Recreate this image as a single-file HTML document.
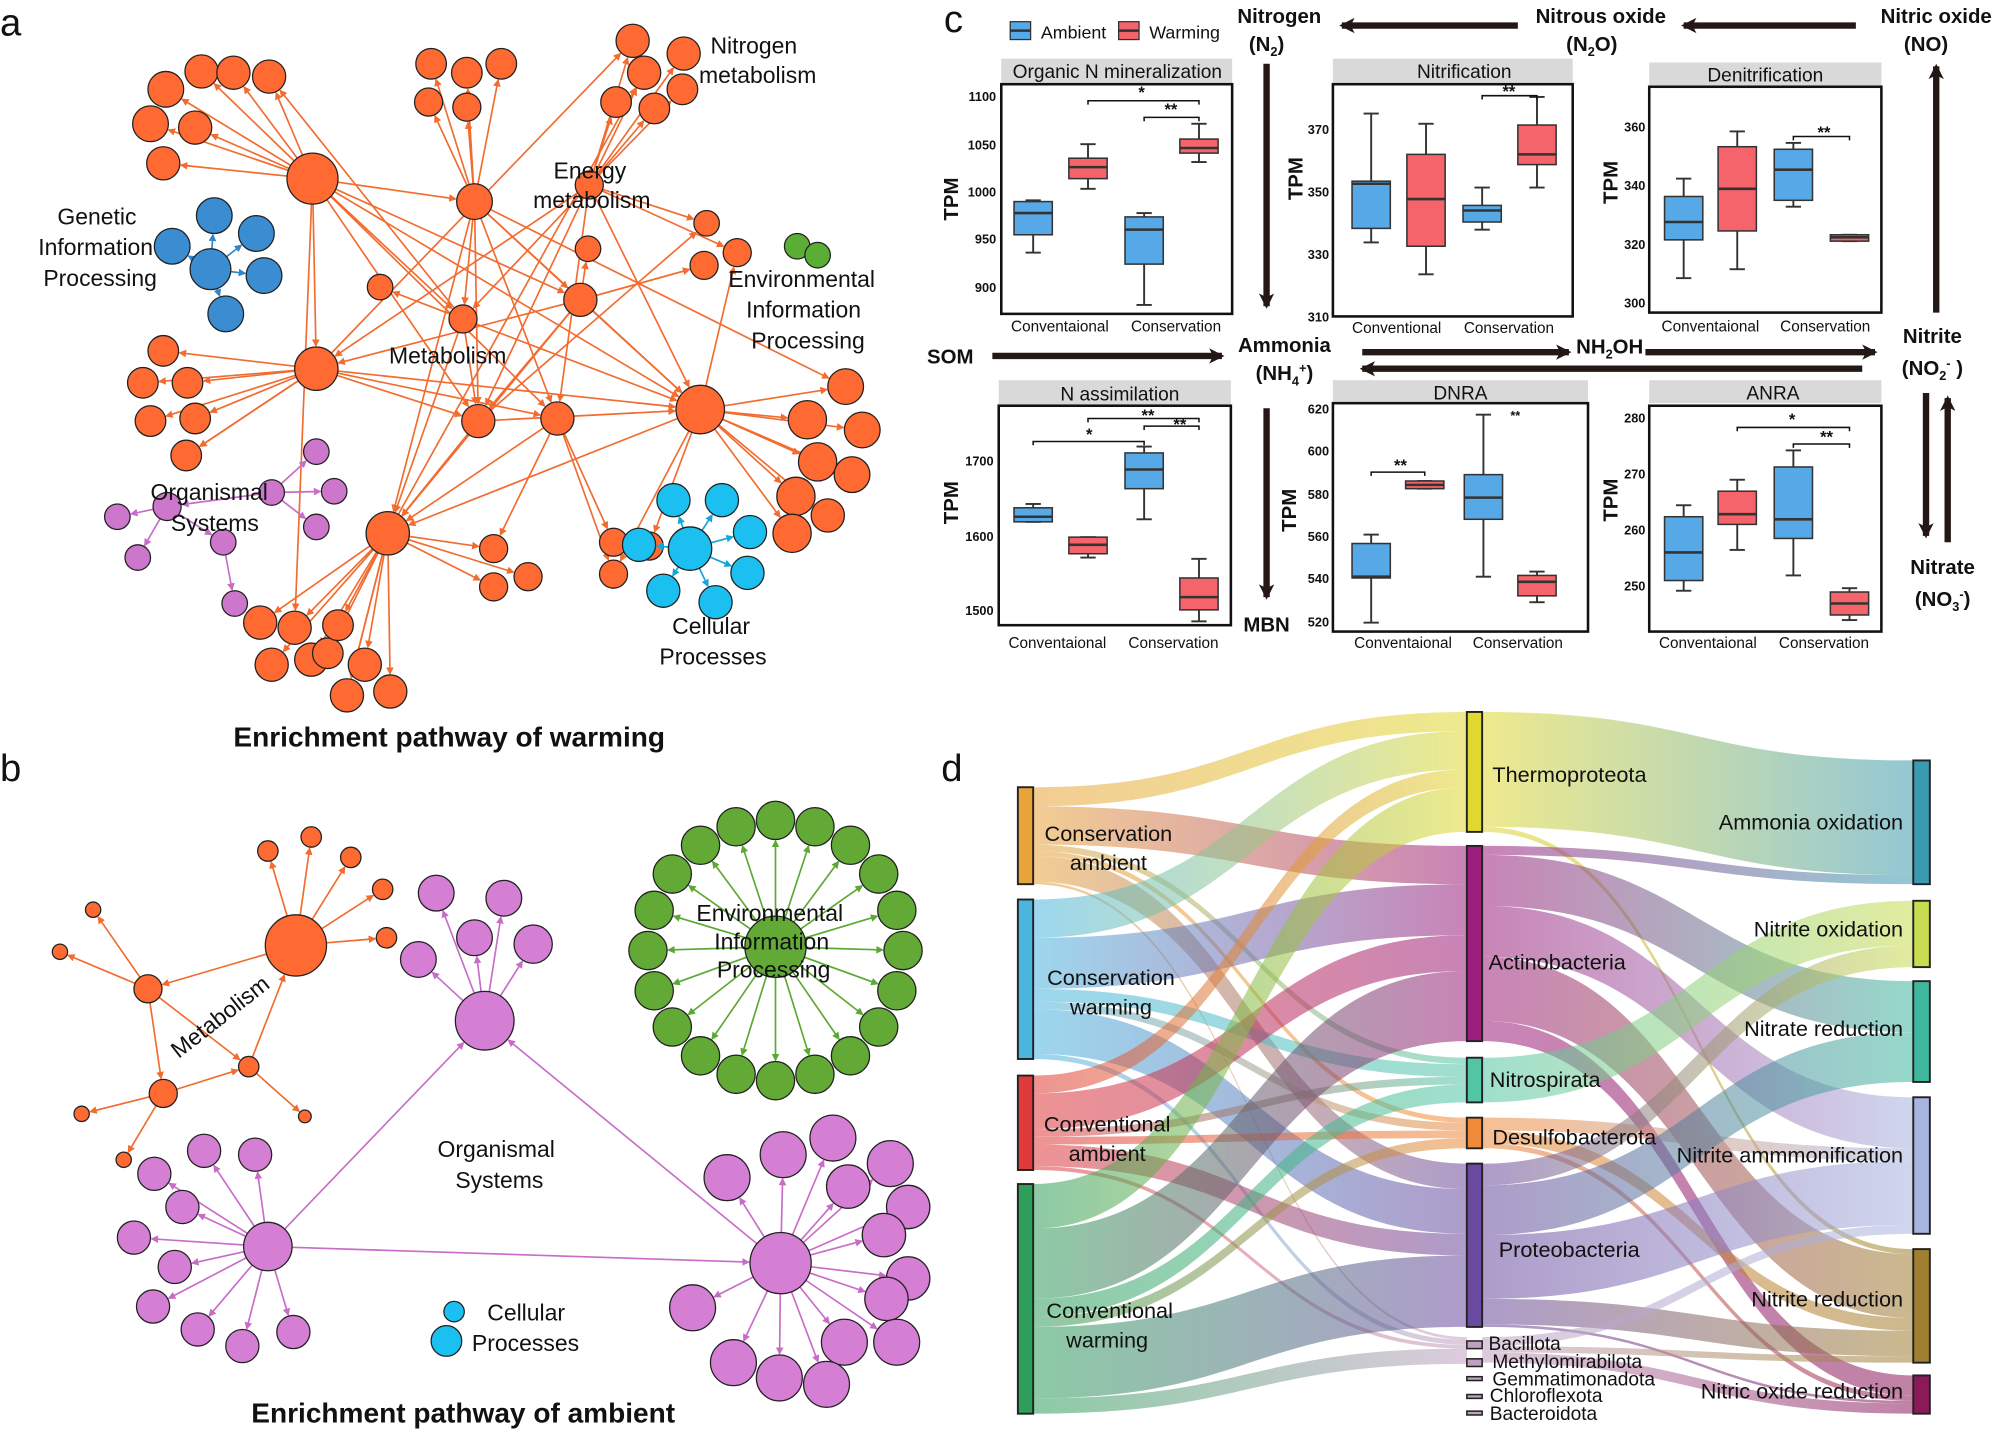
<!DOCTYPE html>
<html><head><meta charset="utf-8"><style>
html,body{margin:0;padding:0;background:#fff}
svg{display:block}
text{font-family:"Liberation Sans",sans-serif;fill:#111}
.b{font-weight:bold}
.t{font-size:10px;fill:#222}
.x{font-size:12px;fill:#222}
.lab{font-size:18px}
.h{font-size:15px}
</style></head><body>
<svg id="s" xmlns="http://www.w3.org/2000/svg" width="2000" height="1429" viewBox="0 0 1568 1120" preserveAspectRatio="none">
<defs>
<marker id="ao" markerWidth="6" markerHeight="6" refX="5" refY="3" orient="auto" markerUnits="userSpaceOnUse"><path d="M0,0L6,3L0,6z" fill="#F26B2F"/></marker>
<marker id="ap" markerWidth="6" markerHeight="6" refX="5" refY="3" orient="auto" markerUnits="userSpaceOnUse"><path d="M0,0L6,3L0,6z" fill="#C86CC8"/></marker>
<marker id="ab" markerWidth="6" markerHeight="6" refX="5" refY="3" orient="auto" markerUnits="userSpaceOnUse"><path d="M0,0L6,3L0,6z" fill="#2E86C8"/></marker>
<marker id="ac" markerWidth="6" markerHeight="6" refX="5" refY="3" orient="auto" markerUnits="userSpaceOnUse"><path d="M0,0L6,3L0,6z" fill="#10A8D8"/></marker>
<marker id="ag" markerWidth="6" markerHeight="6" refX="5" refY="3" orient="auto" markerUnits="userSpaceOnUse"><path d="M0,0L6,3L0,6z" fill="#5BA832"/></marker>
<marker id="ak" markerWidth="12" markerHeight="12" refX="10" refY="6" orient="auto" markerUnits="userSpaceOnUse"><path d="M0,0L12,6L0,12L3,6z" fill="#231815"/></marker>
</defs>
<g id="net"></g>
<g id="sank"></g>
<g id="boxes"></g>
<g id="arrows" stroke="#231815" stroke-width="5" fill="none">
<line x1="1190" y1="20" x2="1052" y2="20" marker-end="url(#ak)"/>
<line x1="1455" y1="20" x2="1320" y2="20" marker-end="url(#ak)"/>
<line x1="993" y1="50" x2="993" y2="240" marker-end="url(#ak)"/>
<line x1="1518" y1="245" x2="1518" y2="52" marker-end="url(#ak)"/>
<line x1="778" y1="279" x2="958" y2="279" marker-end="url(#ak)"/>
<line x1="1068" y1="276" x2="1230" y2="276" marker-end="url(#ak)"/>
<line x1="1290" y1="276" x2="1470" y2="276" marker-end="url(#ak)"/>
<line x1="1460" y1="289" x2="1068" y2="289" marker-end="url(#ak)"/>
<line x1="993" y1="320" x2="993" y2="468" marker-end="url(#ak)"/>
<line x1="1510" y1="308" x2="1510" y2="420" marker-end="url(#ak)"/>
<line x1="1527" y1="425" x2="1527" y2="312" marker-end="url(#ak)"/>
</g>
<!-- panel labels -->
<text x="0" y="28" style="font-size:30px">a</text>
<text x="0" y="612" style="font-size:30px">b</text>
<text x="740" y="25" style="font-size:30px">c</text>
<text x="738" y="612" style="font-size:30px">d</text>
<!-- panel a labels -->
<g style="font-size:18px">
<text x="557" y="42">Nitrogen</text><text x="548" y="65">metabolism</text>
<text x="434" y="140">Energy</text><text x="418" y="163">metabolism</text>
<text x="45" y="176">Genetic</text><text x="30" y="200">Information</text><text x="34" y="224">Processing</text>
<text x="571" y="225">Environmental</text><text x="585" y="249">Information</text><text x="589" y="273">Processing</text>
<text x="305" y="285">Metabolism</text>
<text x="118" y="392">Organismal</text><text x="134" y="416">Systems</text>
<text x="527" y="497">Cellular</text><text x="517" y="521">Processes</text>
<text x="343" y="907">Organismal</text><text x="357" y="931">Systems</text>
<text x="382" y="1035">Cellular</text><text x="370" y="1059">Processes</text>
<text x="546" y="722">Environmental</text><text x="560" y="744">Information</text><text x="562" y="766">Processing</text>
<text x="0" y="0" transform="translate(140,830) rotate(-38)">Metabolism</text>
</g>
<text x="183" y="585" class="b" style="font-size:22px">Enrichment pathway of warming</text>
<text x="197" y="1115" class="b" style="font-size:22px">Enrichment pathway of ambient</text>
<!-- panel c texts -->
<g style="font-size:14px">
<rect x="792" y="17" width="16" height="14" fill="#56A8E6" stroke="#333"/><line x1="792" y1="24" x2="808" y2="24" stroke="#333" stroke-width="2"/>
<text x="816" y="30">Ambient</text>
<rect x="877" y="17" width="16" height="14" fill="#F4646A" stroke="#333"/><line x1="877" y1="24" x2="893" y2="24" stroke="#333" stroke-width="2"/>
<text x="901" y="30">Warming</text>
</g>
<g class="b" style="font-size:16px">
<text x="1003" y="18" text-anchor="middle">Nitrogen</text><text x="993" y="40" text-anchor="middle">(N<tspan font-size="10" dy="4">2</tspan><tspan dy="-4">)</tspan></text>
<text x="1255" y="18" text-anchor="middle">Nitrous oxide</text><text x="1248" y="40" text-anchor="middle">(N<tspan font-size="10" dy="4">2</tspan><tspan dy="-4">O)</tspan></text>
<text x="1518" y="18" text-anchor="middle">Nitric oxide</text><text x="1510" y="40" text-anchor="middle">(NO)</text>
<text x="745" y="285" text-anchor="middle">SOM</text>
<text x="1007" y="276" text-anchor="middle">Ammonia</text><text x="1007" y="298" text-anchor="middle">(NH<tspan font-size="10" dy="4">4</tspan><tspan font-size="10" dy="-10">+</tspan><tspan dy="6">)</tspan></text>
<text x="1262" y="277" text-anchor="middle">NH<tspan font-size="10" dy="4">2</tspan><tspan dy="-4">OH</tspan></text>
<text x="1515" y="269" text-anchor="middle">Nitrite</text><text x="1515" y="294" text-anchor="middle">(NO<tspan font-size="10" dy="4">2</tspan><tspan font-size="10" dy="-10">-</tspan><tspan dy="6"> )</tspan></text>
<text x="1523" y="450" text-anchor="middle">Nitrate</text><text x="1523" y="475" text-anchor="middle">(NO<tspan font-size="10" dy="4">3</tspan><tspan font-size="10" dy="-10">-</tspan><tspan dy="6">)</tspan></text>
<text x="993" y="495" text-anchor="middle">MBN</text>
</g>
<g class="h">
<rect x="785" y="46" width="181" height="20" fill="#D9D9D9"/><text x="876" y="61" text-anchor="middle">Organic N mineralization</text>
<rect x="1045" y="46" width="188" height="20" fill="#D9D9D9"/><text x="1148" y="61" text-anchor="middle">Nitrification</text>
<rect x="1293" y="49" width="182" height="19" fill="#D9D9D9"/><text x="1384" y="64" text-anchor="middle">Denitrification</text>
<rect x="783" y="298" width="182" height="20" fill="#D9D9D9"/><text x="878" y="314" text-anchor="middle">N assimilation</text>
<rect x="1045" y="298" width="200" height="18" fill="#D9D9D9"/><text x="1145" y="313" text-anchor="middle">DNRA</text>
<rect x="1293" y="298" width="182" height="18" fill="#D9D9D9"/><text x="1390" y="313" text-anchor="middle">ANRA</text>
</g>
<g fill="none" stroke="#111" stroke-width="2">
<rect x="785" y="66" width="181" height="180"/>
<rect x="1045" y="66" width="188" height="182"/>
<rect x="1293" y="68" width="182" height="177"/>
<rect x="783" y="318" width="182" height="172"/>
<rect x="1045" y="316" width="200" height="179"/>
<rect x="1293" y="318" width="182" height="177"/>
</g>
<g class="b" style="font-size:16px">
<text transform="translate(751,156) rotate(-90)" text-anchor="middle">TPM</text>
<text transform="translate(1021,140) rotate(-90)" text-anchor="middle">TPM</text>
<text transform="translate(1268,143) rotate(-90)" text-anchor="middle">TPM</text>
<text transform="translate(751,394) rotate(-90)" text-anchor="middle">TPM</text>
<text transform="translate(1016,400) rotate(-90)" text-anchor="middle">TPM</text>
<text transform="translate(1268,392) rotate(-90)" text-anchor="middle">TPM</text>
</g>
<g class="t b" text-anchor="end">
<text x="781" y="79">1100</text><text x="781" y="117">1050</text><text x="781" y="154">1000</text><text x="781" y="191">950</text><text x="781" y="229">900</text>
<text x="1042" y="105">370</text><text x="1042" y="154">350</text><text x="1042" y="203">330</text><text x="1042" y="252">310</text>
<text x="1290" y="103">360</text><text x="1290" y="149">340</text><text x="1290" y="195">320</text><text x="1290" y="241">300</text>
<text x="779" y="365">1700</text><text x="779" y="424">1600</text><text x="779" y="482">1500</text>
<text x="1042" y="324">620</text><text x="1042" y="357">600</text><text x="1042" y="391">580</text><text x="1042" y="424">560</text><text x="1042" y="457">540</text><text x="1042" y="491">520</text>
<text x="1290" y="331">280</text><text x="1290" y="375">270</text><text x="1290" y="419">260</text><text x="1290" y="463">250</text>
</g>
<g class="x" text-anchor="middle">
<text x="831" y="260">Conventaional</text><text x="922" y="260">Conservation</text>
<text x="1095" y="261">Conventional</text><text x="1183" y="261">Conservation</text>
<text x="1341" y="260">Conventaional</text><text x="1431" y="260">Conservation</text>
<text x="829" y="508">Conventaional</text><text x="920" y="508">Conservation</text>
<text x="1100" y="508">Conventaional</text><text x="1190" y="508">Conservation</text>
<text x="1339" y="508">Conventaional</text><text x="1430" y="508">Conservation</text>
</g>
<g style="font-size:13px" class="b" text-anchor="middle">
<text x="895" y="77">*</text><text x="918" y="90">**</text>
<text x="1183" y="76">**</text>
<text x="1430" y="108">**</text>
<text x="900" y="330">**</text><text x="854" y="345">*</text><text x="925" y="337">**</text>
<text x="1098" y="369">**</text><text x="1188" y="329" style="font-size:10px">**</text>
<text x="1405" y="333">*</text><text x="1432" y="347">**</text>
</g>
<g fill="none" stroke="#111" stroke-width="1.2">
<path d="M853,82V79H940V82M897,95V92H940V95"/>
<path d="M1162,78V75H1205V78"/>
<path d="M1406,110V107H1450V110"/>
<path d="M853,331V328H940V331M810,349V346H897V349M897,337V334H940V337"/>
<path d="M1075,373V370H1117V373"/>
<path d="M1362,338V335H1450V338M1406,351V348H1450V351"/>
</g>
<!-- panel d labels -->
<g style="font-size:17px">
<text x="869" y="659" text-anchor="middle">Conservation</text><text x="869" y="682" text-anchor="middle">ambient</text>
<text x="871" y="772" text-anchor="middle">Conservation</text><text x="871" y="795" text-anchor="middle">warming</text>
<text x="868" y="887" text-anchor="middle">Conventional</text><text x="868" y="910" text-anchor="middle">ambient</text>
<text x="870" y="1033" text-anchor="middle">Conventional</text><text x="868" y="1056" text-anchor="middle">warming</text>
<text x="1170" y="613">Thermoproteota</text>
<text x="1167" y="760">Actinobacteria</text>
<text x="1168" y="852">Nitrospirata</text>
<text x="1170" y="897">Desulfobacterota</text>
<text x="1175" y="985">Proteobacteria</text>
<g style="font-size:15px"><text x="1167" y="1058">Bacillota</text><text x="1170" y="1072">Methylomirabilota</text><text x="1170" y="1086">Gemmatimonadota</text><text x="1168" y="1099">Chloroflexota</text><text x="1168" y="1113">Bacteroidota</text></g>
<g text-anchor="end">
<text x="1492" y="650">Ammonia oxidation</text>
<text x="1492" y="734">Nitrite oxidation</text>
<text x="1492" y="812">Nitrate reduction</text>
<text x="1492" y="911">Nitrite ammmonification</text>
<text x="1492" y="1024">Nitrite reduction</text>
<text x="1492" y="1096">Nitric oxide reduction</text>
</g></g>
</svg>
<script>
var NS="http://www.w3.org/2000/svg";
function el(p,t,a){var e=document.createElementNS(NS,t);for(var k in a)e.setAttribute(k,a[k]);p.insertBefore?p.appendChild(e):0;return e;}
var net=document.getElementById('net');
function edges(hub,leaves,col,mk,w){leaves.forEach(function(l){var dx=l[0]-hub[0],dy=l[1]-hub[1],d=Math.hypot(dx,dy),r=l[2]||12,rh=hub[2]||12;
el(net,'line',{x1:hub[0]+dx/d*rh,y1:hub[1]+dy/d*rh,x2:l[0]-dx/d*(r+1),y2:l[1]-dy/d*(r+1),stroke:col,'stroke-width':w||1.3,'marker-end':'url(#'+mk+')'});});}
function nodes(arr,fill){arr.forEach(function(n){el(net,'circle',{cx:n[0],cy:n[1],r:n[2]||12,fill:fill,stroke:'#222','stroke-width':1});});}
var O='#FF6A33',OL='#F26B2F';
// panel a
var H=[[245,140,20],[372,158,14],[462,145,11],[455,235,13],[363,250,11],[248,289,17],[375,330,13],[437,328,13],[549,321,19],[304,418,17]];
var L=[[158,56,13],[183,57,13],[211,60,13],[130,70,14],[118,97,14],[153,100,13],[128,128,13],[338,50,12],[393,50,12],[366,57,12],[336,80,11],[366,84,11],
[496,32,13],[536,42,13],[505,57,13],[535,70,12],[483,80,12],[513,85,12],[578,198,11],[552,208,11],[554,175,10],[461,195,10],[298,225,10],
[663,303,14],[633,329,15],[676,337,14],[641,362,15],[668,372,14],[624,389,15],[621,418,15],[649,404,13],
[128,275,12],[147,300,12],[112,300,12],[153,328,12],[118,330,12],[146,357,12],
[204,488,13],[231,492,13],[213,521,13],[244,517,13],[286,521,13],[272,545,13],[306,542,13],[257,512,12],[265,490,12],
[387,430,11],[387,460,11],[414,452,11],[481,425,11],[481,450,11],[509,428,11]];
function near(l){var b=H[0],bd=1e9;H.forEach(function(h){var d=Math.hypot(h[0]-l[0],h[1]-l[1]);if(d<bd){bd=d;b=h;}});return b;}
L.forEach(function(l){edges(near(l),[l],OL,'ao');});
var HH=[[0,1],[0,3],[0,5],[0,6],[0,4],[0,7],[1,3],[1,4],[1,6],[1,7],[1,8],[2,4],[2,6],[2,7],[3,5],[3,6],[3,8],[4,6],[4,8],[5,6],[5,7],[5,8],[6,9],[7,9],[8,9],[2,8],[3,9],[4,9],[6,8],[0,8],[1,9],[2,5]];
HH.forEach(function(p){edges(H[p[0]],[H[p[1]]],OL,'ao');});
[[0,L[38]],[5,L[12]],[9,L[14]],[6,L[20]],[7,L[46]],[3,L[19]],[1,L[23]],[4,L[2]],[8,L[50]],[9,L[42]],[5,L[36]],[2,L[18]]].forEach(function(p){edges(H[p[0]],[p[1]],OL,'ao');});
nodes(L,O);nodes(H,O);
var B=[165,211,16];var BL=[[168,169,14],[135,193,14],[201,183,14],[207,216,14],[177,246,14]];edges(B,BL,'#2E86C8','ab');nodes(BL,'#3A8DD0');nodes([B],'#3A8DD0');
var C=[541,430,17];var CL=[[528,392,13],[566,392,13],[588,417,13],[586,449,13],[561,472,13],[520,463,13],[501,427,13]];edges(C,CL,'#10A8D8','ac');nodes(CL,'#1CC0F0');nodes([C],'#1CC0F0');
nodes([[625,193,10],[641,200,10]],'#5BAE35');
var P1=[131,397,11],P2=[175,425,10],P3=[213,386,10];
edges(P1,[[92,405,10],[108,437,10]],'#C86CC8','ap');edges(P2,[[184,473,10]],'#C86CC8','ap');edges(P3,[[248,354,10],[262,385,10],[248,413,10],P1],'#C86CC8','ap');edges(P1,[P2],'#C86CC8','ap');
nodes([[92,405,10],[108,437,10],[184,473,10],[248,354,10],[262,385,10],[248,413,10],P1,P2,P3],'#CC77CC');
// panel b
var M=[232,741,24],M2=[116,775,11],M3=[128,857,11],M4=[195,836,8];
edges(M,[[210,667,8],[244,656,8],[275,672,8],[300,697,8],[303,735,8],M2],OL,'ao');
edges(M2,[[73,713,6],[47,746,6],M3,M4],OL,'ao');edges(M3,[[64,873,6],[97,909,6],M4],OL,'ao');edges(M4,[[239,875,5],M],OL,'ao');
nodes([[210,667,8],[244,656,8],[275,672,8],[300,697,8],[303,735,8],[73,713,6],[47,746,6],[64,873,6],[97,909,6],[239,875,5],M2,M3,M4,M],O);
var PU='#D47ED4',PC='#C86CC8';
var Q=[380,800,23],QL=[[342,700,14],[395,704,14],[418,740,15],[372,735,14],[328,752,14]];edges(Q,QL,PC,'ap');
var R=[210,977,19],RL=[[121,920,13],[160,902,13],[200,905,13],[143,946,13],[105,970,13],[137,993,13],[120,1024,13],[155,1042,13],[190,1055,13],[230,1044,13]];edges(R,RL,PC,'ap');
var S=[612,990,24],SL=[[570,923,18],[614,905,18],[653,892,18],[698,912,18],[665,930,17],[712,946,17],[693,968,17],[712,1002,17],[695,1018,17],[703,1052,18],[662,1052,18],[648,1085,18],[611,1080,18],[575,1068,18],[543,1025,18]];edges(S,SL,PC,'ap');
edges(R,[Q],PC,'ap');edges(R,[S],PC,'ap');edges(S,[Q],PC,'ap');
nodes(QL.concat([Q]),PU);nodes(RL.concat([R]),PU);nodes(SL.concat([S]),PU);
var G=[608,742,24],GL=[];for(var i=0;i<20;i++){var a=i/20*2*Math.PI-Math.PI/2;GL.push([608+Math.cos(a)*100,745+Math.sin(a)*102,15]);}
edges(G,GL,'#5BA832','ag');nodes(GL,'#62AA35');nodes([G],'#62AA35');
nodes([[356,1028,8],[350,1051,12]],'#1CC0F0');

// boxes
var bx=document.getElementById('boxes');
function box(cx,q1,q3,md,lo,hi,c){var w=15;
el(bx,'line',{x1:cx,y1:lo,x2:cx,y2:hi,stroke:'#333','stroke-width':1.5});
el(bx,'line',{x1:cx-6,y1:lo,x2:cx+6,y2:lo,stroke:'#333','stroke-width':1.5});el(bx,'line',{x1:cx-6,y1:hi,x2:cx+6,y2:hi,stroke:'#333','stroke-width':1.5});
el(bx,'rect',{x:cx-w,y:Math.min(q1,q3),width:2*w,height:Math.abs(q3-q1),fill:c,stroke:'#333','stroke-width':1.2});
el(bx,'line',{x1:cx-w,y1:md,x2:cx+w,y2:md,stroke:'#333','stroke-width':2});}
var BU='#56A8E6',RE='#F4646A';
box(810,158,184,167,198,157,BU);box(853,124,140,131,148,113,RE);box(897,170,207,180,239,167,BU);box(940,109,120,116,127,97,RE);
box(1075,142,179,144,190,89,BU);box(1118,121,193,156,215,97,RE);box(1162,161,174,165,180,147,BU);box(1205,98,129,121,147,76,RE);
box(1320,154,188,174,218,140,BU);box(1362,115,181,148,211,103,RE);box(1406,117,157,133,162,112,BU);box(1450,184,189,186,189,184,RE);
box(810,398,409,405,409,395,BU);box(853,421,434,427,437,421,RE);box(897,355,383,368,407,350,BU);box(940,453,478,468,487,438,RE);
box(1075,426,453,452,488,419,BU);box(1117,377,383,380,383,377,RE);box(1163,372,407,390,452,325,BU);box(1205,451,467,456,472,448,RE);
box(1320,405,455,433,463,396,BU);box(1362,385,411,403,431,376,RE);box(1406,366,422,407,451,353,BU);box(1450,464,482,473,486,461,RE);

// sankey
var sk=document.getElementById('sank'),defs=document.querySelector('defs');
var Lf=[[617,'#E8A33B'],[705,'#4BB5E0'],[843,'#E03A3A'],[928,'#2E9E5B']];
var Md=[[558,'#E0D830'],[663,'#9B1F7A'],[829,'#52C5A5'],[876,'#F08A3A'],[912,'#6A4A9E'],[1048,'#C0A0C0']];
var Rt=[[596,'#3A9AB0'],[706,'#C8DC50'],[769,'#40B8A0'],[860,'#A8B4E0'],[979,'#A08030'],[1078,'#8B1A5A']];
var F1=[[15,30,5,4,20,2],[30,40,10,6,35,4],[14,28,6,6,17,3],[35,55,14,8,56,12]];
var F2=[[90,0,0,0,4,0],[7,0,40,40,50,16],[0,35,0,0,0,0],[0,0,0,10,10,4],[0,17,39,50,20,2],[0,0,0,7,5,8]];
var gi=0;
function rib(x0,a0,b0,x1,a1,b1,c0,c1){var id='g'+(gi++);var g=el(defs,'linearGradient',{id:id,gradientUnits:'userSpaceOnUse',x1:x0,y1:0,x2:x1,y2:0});
el(g,'stop',{offset:0,'stop-color':c0});el(g,'stop',{offset:1,'stop-color':c1});var m=(x0+x1)/2;
el(sk,'path',{d:'M'+x0+','+a0+'C'+m+','+a0+' '+m+','+a1+' '+x1+','+a1+'L'+x1+','+b1+'C'+m+','+b1+' '+m+','+b0+' '+x0+','+b0+'Z',fill:'url(#'+id+')','fill-opacity':0.55});}
function flows(S,T,F,x0,x1){var so=S.map(function(s){return s[0]}),to=T.map(function(t){return t[0]});
for(var i=0;i<F.length;i++)for(var j=0;j<F[i].length;j++){var w=F[i][j];if(!w)continue;rib(x0,so[i],so[i]+w,x1,to[j],to[j]+w,S[i][1],T[j][1]);so[i]+=w;to[j]+=w;}}
flows(Lf,Md,F1,810,1150);flows(Md,Rt,F2,1162,1500);
var LH=[76,125,74,180],MH=[94,153,35,24,128],RH=[97,52,79,107,89,30];
Lf.forEach(function(n,i){el(sk,'rect',{x:798,y:n[0],width:12,height:LH[i],fill:n[1],stroke:'#222','stroke-width':1.5});});
Md.slice(0,5).forEach(function(n,i){el(sk,'rect',{x:1150,y:n[0],width:12,height:MH[i],fill:n[1],stroke:'#222','stroke-width':1.5});});
[1051,1065,1079,1093,1106].forEach(function(y,i){el(sk,'rect',{x:1150,y:y,width:12,height:i<2?6:3,fill:'#C0A0C0',stroke:'#222','stroke-width':1.2});});
Rt.forEach(function(n,i){el(sk,'rect',{x:1500,y:n[0],width:13,height:RH[i],fill:n[1],stroke:'#222','stroke-width':1.5});});
</script>
</body></html>
